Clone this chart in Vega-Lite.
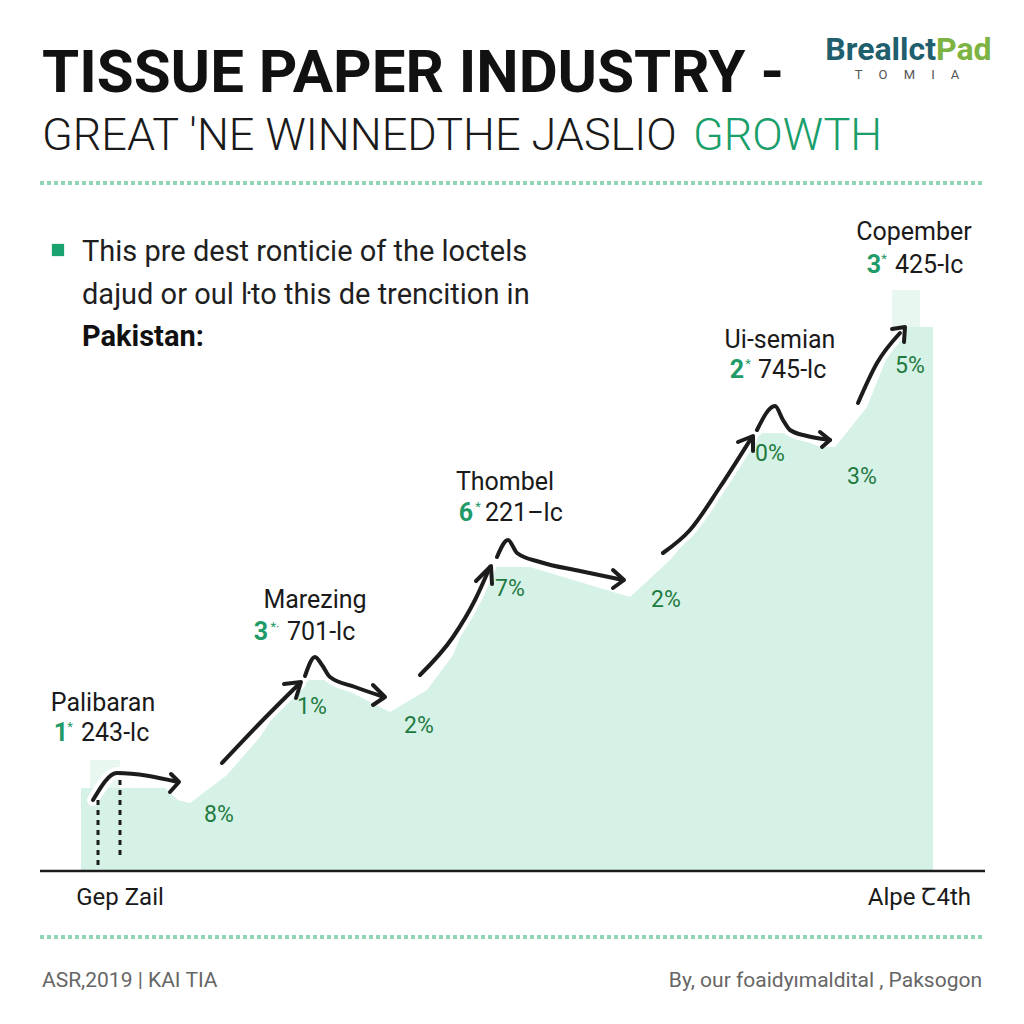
{
  "$schema": "https://vega.github.io/schema/vega-lite/v6.json",
  "width": 1024,
  "height": 1024,
  "autosize": {"type": "fit", "contains": "padding"},
  "padding": 0,
  "background": "#ffffff",
  "config": {"view": {"stroke": null}, "text": {"font": "Roboto"}},
  "datasets": {
    "area": [
      {"t": 8.1, "v": 8.3}, {"t": 16.5, "v": 8.3}, {"t": 17.8, "v": 7.1}, {"t": 19.0, "v": 6.8},
      {"t": 22.7, "v": 9.6}, {"t": 26.0, "v": 13.4}, {"t": 29.3, "v": 18.4}, {"t": 30.0, "v": 19.1},
      {"t": 32.7, "v": 19.1}, {"t": 38.0, "v": 16.4}, {"t": 39.0, "v": 15.9}, {"t": 42.7, "v": 18.1},
      {"t": 45.3, "v": 21.6}, {"t": 47.3, "v": 26.6}, {"t": 49.3, "v": 30.4}, {"t": 53.0, "v": 30.4},
      {"t": 63.0, "v": 27.4}, {"t": 67.0, "v": 31.1}, {"t": 68.7, "v": 33.1}, {"t": 72.0, "v": 39.1},
      {"t": 75.0, "v": 43.8}, {"t": 78.7, "v": 43.8}, {"t": 82.0, "v": 42.4}, {"t": 83.5, "v": 42.4},
      {"t": 86.7, "v": 46.4}, {"t": 88.7, "v": 51.4}, {"t": 89.3, "v": 54.4}, {"t": 93.3, "v": 54.4}
    ],
    "blocks": [
      {"t": 9.0, "t2": 12.0, "v": 8.3, "v2": 11.1},
      {"t": 89.2, "t2": 92.0, "v": 54.4, "v2": 58.1}
    ],
    "paths": [
      {"seg": "s1", "kind": "curve", "i": 1, "t": 9.3, "v": 7.1},
      {"seg": "s1", "kind": "curve", "i": 2, "t": 11.7, "v": 9.8},
      {"seg": "s1", "kind": "curve", "i": 3, "t": 17.8, "v": 8.9},
      {"seg": "a1", "kind": "head", "i": 1, "t": 17.1, "v": 9.7},
      {"seg": "a1", "kind": "head", "i": 2, "t": 17.9, "v": 8.9},
      {"seg": "a1", "kind": "head", "i": 3, "t": 17.0, "v": 7.9},
      {"seg": "s2", "kind": "curve", "i": 1, "t": 22.2, "v": 10.8},
      {"seg": "s2", "kind": "curve", "i": 2, "t": 26.0, "v": 14.8},
      {"seg": "s2", "kind": "curve", "i": 3, "t": 30.0, "v": 18.8},
      {"seg": "a2", "kind": "head", "i": 1, "t": 28.4, "v": 18.7},
      {"seg": "a2", "kind": "head", "i": 2, "t": 30.1, "v": 18.9},
      {"seg": "a2", "kind": "head", "i": 3, "t": 29.6, "v": 17.3},
      {"seg": "s2b", "kind": "curve", "i": 1, "t": 30.5, "v": 19.5},
      {"seg": "s2b", "kind": "curve", "i": 2, "t": 31.5, "v": 21.4},
      {"seg": "s2b", "kind": "curve", "i": 3, "t": 32.2, "v": 20.6},
      {"seg": "s2b", "kind": "curve", "i": 4, "t": 33.0, "v": 19.4},
      {"seg": "s2b", "kind": "curve", "i": 5, "t": 35.5, "v": 18.4},
      {"seg": "s2b", "kind": "curve", "i": 6, "t": 38.4, "v": 17.4},
      {"seg": "a2b", "kind": "head", "i": 1, "t": 37.3, "v": 18.6},
      {"seg": "a2b", "kind": "head", "i": 2, "t": 38.5, "v": 17.4},
      {"seg": "a2b", "kind": "head", "i": 3, "t": 37.3, "v": 16.6},
      {"seg": "s3", "kind": "curve", "i": 1, "t": 42.0, "v": 19.6},
      {"seg": "s3", "kind": "curve", "i": 2, "t": 45.3, "v": 23.4},
      {"seg": "s3", "kind": "curve", "i": 3, "t": 47.5, "v": 27.1},
      {"seg": "s3", "kind": "curve", "i": 4, "t": 49.0, "v": 30.4},
      {"seg": "a3", "kind": "head", "i": 1, "t": 47.6, "v": 29.0},
      {"seg": "a3", "kind": "head", "i": 2, "t": 49.1, "v": 30.5},
      {"seg": "a3", "kind": "head", "i": 3, "t": 49.2, "v": 28.7},
      {"seg": "s3b", "kind": "curve", "i": 1, "t": 49.7, "v": 31.4},
      {"seg": "s3b", "kind": "curve", "i": 2, "t": 50.8, "v": 33.1},
      {"seg": "s3b", "kind": "curve", "i": 3, "t": 51.7, "v": 31.8},
      {"seg": "s3b", "kind": "curve", "i": 4, "t": 54.0, "v": 30.9},
      {"seg": "s3b", "kind": "curve", "i": 5, "t": 58.0, "v": 30.0},
      {"seg": "s3b", "kind": "curve", "i": 6, "t": 62.3, "v": 29.1},
      {"seg": "a3b", "kind": "head", "i": 1, "t": 61.3, "v": 30.1},
      {"seg": "a3b", "kind": "head", "i": 2, "t": 62.4, "v": 29.1},
      {"seg": "a3b", "kind": "head", "i": 3, "t": 61.3, "v": 28.3},
      {"seg": "s4", "kind": "curve", "i": 1, "t": 66.3, "v": 31.8},
      {"seg": "s4", "kind": "curve", "i": 2, "t": 69.0, "v": 34.1},
      {"seg": "s4", "kind": "curve", "i": 3, "t": 72.0, "v": 38.4},
      {"seg": "s4", "kind": "curve", "i": 4, "t": 75.2, "v": 43.4},
      {"seg": "a4", "kind": "head", "i": 1, "t": 73.8, "v": 42.9},
      {"seg": "a4", "kind": "head", "i": 2, "t": 75.3, "v": 43.5},
      {"seg": "a4", "kind": "head", "i": 3, "t": 75.3, "v": 42.0},
      {"seg": "s4b", "kind": "curve", "i": 1, "t": 75.7, "v": 44.1},
      {"seg": "s4b", "kind": "curve", "i": 2, "t": 77.5, "v": 46.5},
      {"seg": "s4b", "kind": "curve", "i": 3, "t": 78.3, "v": 45.1},
      {"seg": "s4b", "kind": "curve", "i": 4, "t": 79.0, "v": 44.1},
      {"seg": "s4b", "kind": "curve", "i": 5, "t": 80.7, "v": 43.5},
      {"seg": "s4b", "kind": "curve", "i": 6, "t": 83.0, "v": 43.1},
      {"seg": "a4b", "kind": "head", "i": 1, "t": 82.0, "v": 43.9},
      {"seg": "a4b", "kind": "head", "i": 2, "t": 83.0, "v": 43.1},
      {"seg": "a4b", "kind": "head", "i": 3, "t": 82.2, "v": 42.4},
      {"seg": "s5", "kind": "curve", "i": 1, "t": 85.8, "v": 46.8},
      {"seg": "s5", "kind": "curve", "i": 2, "t": 87.7, "v": 50.8},
      {"seg": "s5", "kind": "curve", "i": 3, "t": 90.0, "v": 53.8},
      {"seg": "a5", "kind": "head", "i": 1, "t": 89.2, "v": 54.2},
      {"seg": "a5", "kind": "head", "i": 2, "t": 90.5, "v": 54.4},
      {"seg": "a5", "kind": "head", "i": 3, "t": 90.4, "v": 52.9}
    ],
    "dotted": [
      {"t": 9.8, "v": 7.1, "v2": 0.6},
      {"t": 12.0, "v": 9.1, "v2": 1.1}
    ],
    "baseline": [{"t": 4.0, "t2": 98.5, "v": 0}],
    "separators": [{"t": 4.0, "t2": 98.5, "v": 68.8}, {"t": 4.0, "t2": 98.5, "v": -6.6}],
    "title": [{"t": 4.2, "v": 79.7, "text": "TISSUE PAPER INDUSTRY -"}],
    "subtitle": [{"t": 4.2, "v": 73.5, "text": "GREAT 'NE WINNEDTHE JASLIO"}],
    "subtitleGreen": [{"t": 69.3, "v": 73.5, "text": "GROWTH"}],
    "logoA": [{"t": 93.6, "v": 82.1, "text": "Breallct"}],
    "logoB": [{"t": 93.6, "v": 82.1, "text": "Pad"}],
    "logoSub": [{"t": 90.7, "v": 79.6, "text": "T\u00a0\u00a0\u00a0\u00a0\u00a0O\u00a0\u00a0\u00a0\u00a0\u00a0M\u00a0\u00a0\u00a0\u00a0\u00a0I\u00a0\u00a0\u00a0\u00a0\u00a0A"}],
    "square": [{"t": 5.8, "v": 62.1}],
    "desc": [
      {"t": 8.2, "v": 61.9, "text": "This pre dest ronticie of the loctels"},
      {"t": 8.2, "v": 57.6, "text": "dajud or oul ŀto this de trencition in"}
    ],
    "descBold": [{"t": 8.2, "v": 53.4, "text": "Pakistan:"}],
    "names": [
      {"t": 10.3, "v": 16.8, "text": "Palibaran"},
      {"t": 31.5, "v": 27.1, "text": "Marezing"},
      {"t": 50.5, "v": 38.9, "text": "Thombel"},
      {"t": 78.0, "v": 53.1, "text": "Ui-semian"},
      {"t": 91.4, "v": 63.9, "text": "Copember"}
    ],
    "digits": [
      {"t": 6.1, "v": 13.8, "text": "1"},
      {"t": 26.1, "v": 23.9, "text": "3"},
      {"t": 46.6, "v": 35.8, "text": "6"},
      {"t": 73.7, "v": 50.1, "text": "2"},
      {"t": 87.4, "v": 60.6, "text": "3"}
    ],
    "stars": [
      {"t": 7.0, "v": 14.4, "text": "*"},
      {"t": 27.5, "v": 24.4, "text": "*·"},
      {"t": 47.8, "v": 36.4, "text": "*"},
      {"t": 74.8, "v": 50.7, "text": "*"},
      {"t": 88.4, "v": 61.2, "text": "*"}
    ],
    "values": [
      {"t": 8.1, "v": 13.8, "text": "243-lc"},
      {"t": 28.7, "v": 23.9, "text": "701-lc"},
      {"t": 48.5, "v": 35.8, "text": "221–lc"},
      {"t": 75.8, "v": 50.1, "text": "745-lc"},
      {"t": 89.5, "v": 60.6, "text": "425-lc"}
    ],
    "pcts": [
      {"t": 21.9, "v": 5.6, "text": "8%"},
      {"t": 31.2, "v": 16.4, "text": "1%"},
      {"t": 41.9, "v": 14.5, "text": "2%"},
      {"t": 51.0, "v": 28.2, "text": "7%"},
      {"t": 66.6, "v": 27.1, "text": "2%"},
      {"t": 77.0, "v": 41.7, "text": "0%"},
      {"t": 86.2, "v": 39.4, "text": "3%"},
      {"t": 91.0, "v": 50.5, "text": "5%"}
    ],
    "axisLeft": [{"t": 12.0, "v": -2.7, "text": "Gep Zail"}],
    "axisRight": [{"t": 97.1, "v": -2.7, "text": "Alpe Ꞇ4th"}],
    "footLeft": [{"t": 4.2, "v": -11.0, "text": "ASR,2019 | KAI TIA"}],
    "footRight": [{"t": 98.2, "v": -11.0, "text": "By, our foaidyımaldital , Paksogon"}]
  },
  "encoding": {
    "x": {"field": "t", "type": "quantitative", "scale": {"domain": [0, 102.4], "nice": false, "zero": false}, "axis": null},
    "y": {"field": "v", "type": "quantitative", "scale": {"domain": [-15.3, 87.1], "nice": false, "zero": false}, "axis": null}
  },
  "layer": [
    {"data": {"name": "area"}, "mark": {"type": "area", "color": "#d6f2e7", "interpolate": "linear"}, "encoding": {"y2": {"datum": 0}}},
    {"data": {"name": "blocks"}, "mark": {"type": "rect", "color": "#e8f7f0"}, "encoding": {"x2": {"field": "t2"}, "y2": {"field": "v2"}}},
    {"data": {"name": "paths"}, "transform": [{"filter": "datum.kind == 'curve'"}], "mark": {"type": "line", "color": "#ffffff", "strokeWidth": 12, "strokeCap": "round", "strokeJoin": "round", "interpolate": "monotone"}, "encoding": {"detail": {"field": "seg"}, "order": {"field": "i"}}},
    {"data": {"name": "paths"}, "transform": [{"filter": "datum.kind == 'curve'"}], "mark": {"type": "line", "color": "#1c1c1c", "strokeWidth": 4, "strokeCap": "round", "strokeJoin": "round", "interpolate": "monotone"}, "encoding": {"detail": {"field": "seg"}, "order": {"field": "i"}}},
    {"data": {"name": "paths"}, "transform": [{"filter": "datum.kind == 'head'"}], "mark": {"type": "line", "color": "#1c1c1c", "strokeWidth": 4, "strokeCap": "round", "strokeJoin": "round"}, "encoding": {"detail": {"field": "seg"}, "order": {"field": "i"}}},
    {"data": {"name": "dotted"}, "mark": {"type": "rule", "color": "#1c1c1c", "strokeWidth": 3, "strokeDash": [5, 5]}, "encoding": {"y2": {"field": "v2"}}},
    {"data": {"name": "baseline"}, "mark": {"type": "rule", "color": "#1c1c1c", "strokeWidth": 2.5}, "encoding": {"x2": {"field": "t2"}}},
    {"data": {"name": "separators"}, "mark": {"type": "rule", "color": "#8fd4b3", "strokeWidth": 4, "strokeDash": [4, 3]}, "encoding": {"x2": {"field": "t2"}}},
    {"data": {"name": "title"}, "mark": {"type": "text", "align": "left", "baseline": "middle", "fontSize": 60, "fontWeight": "bold", "color": "#111111"}, "encoding": {"text": {"field": "text"}}},
    {"data": {"name": "subtitle"}, "mark": {"type": "text", "align": "left", "baseline": "middle", "fontSize": 45, "fontWeight": 300, "color": "#1a1a1a"}, "encoding": {"text": {"field": "text"}}},
    {"data": {"name": "subtitleGreen"}, "mark": {"type": "text", "align": "left", "baseline": "middle", "fontSize": 45, "fontWeight": 300, "color": "#1a9e6a"}, "encoding": {"text": {"field": "text"}}},
    {"data": {"name": "logoA"}, "mark": {"type": "text", "align": "right", "baseline": "middle", "fontSize": 32, "fontWeight": "bold", "color": "#1f5f6e"}, "encoding": {"text": {"field": "text"}}},
    {"data": {"name": "logoB"}, "mark": {"type": "text", "align": "left", "baseline": "middle", "fontSize": 32, "fontWeight": "bold", "color": "#7cb342"}, "encoding": {"text": {"field": "text"}}},
    {"data": {"name": "logoSub"}, "mark": {"type": "text", "align": "center", "baseline": "middle", "fontSize": 13, "color": "#555555"}, "encoding": {"text": {"field": "text"}}},
    {"data": {"name": "square"}, "mark": {"type": "square", "size": 150, "filled": true, "color": "#1aa36f", "opacity": 1}},
    {"data": {"name": "desc"}, "mark": {"type": "text", "align": "left", "baseline": "middle", "fontSize": 29, "color": "#1f1f1f"}, "encoding": {"text": {"field": "text"}}},
    {"data": {"name": "descBold"}, "mark": {"type": "text", "align": "left", "baseline": "middle", "fontSize": 29, "fontWeight": "bold", "color": "#111111"}, "encoding": {"text": {"field": "text"}}},
    {"data": {"name": "names"}, "mark": {"type": "text", "align": "center", "baseline": "middle", "fontSize": 25, "color": "#1a1a1a"}, "encoding": {"text": {"field": "text"}}},
    {"data": {"name": "digits"}, "mark": {"type": "text", "align": "center", "baseline": "middle", "fontSize": 25, "fontWeight": "bold", "color": "#1e9b68"}, "encoding": {"text": {"field": "text"}}},
    {"data": {"name": "stars"}, "mark": {"type": "text", "align": "center", "baseline": "middle", "fontSize": 13, "color": "#1e9b68"}, "encoding": {"text": {"field": "text"}}},
    {"data": {"name": "values"}, "mark": {"type": "text", "align": "left", "baseline": "middle", "fontSize": 25, "color": "#1a1a1a"}, "encoding": {"text": {"field": "text"}}},
    {"data": {"name": "pcts"}, "mark": {"type": "text", "align": "center", "baseline": "middle", "fontSize": 23, "color": "#1f7a3f"}, "encoding": {"text": {"field": "text"}}},
    {"data": {"name": "axisLeft"}, "mark": {"type": "text", "align": "center", "baseline": "middle", "fontSize": 24, "color": "#1a1a1a"}, "encoding": {"text": {"field": "text"}}},
    {"data": {"name": "axisRight"}, "mark": {"type": "text", "align": "right", "baseline": "middle", "fontSize": 24, "color": "#1a1a1a"}, "encoding": {"text": {"field": "text"}}},
    {"data": {"name": "footLeft"}, "mark": {"type": "text", "align": "left", "baseline": "middle", "fontSize": 21, "color": "#666666"}, "encoding": {"text": {"field": "text"}}},
    {"data": {"name": "footRight"}, "mark": {"type": "text", "align": "right", "baseline": "middle", "fontSize": 21, "color": "#666666"}, "encoding": {"text": {"field": "text"}}}
  ]
}
